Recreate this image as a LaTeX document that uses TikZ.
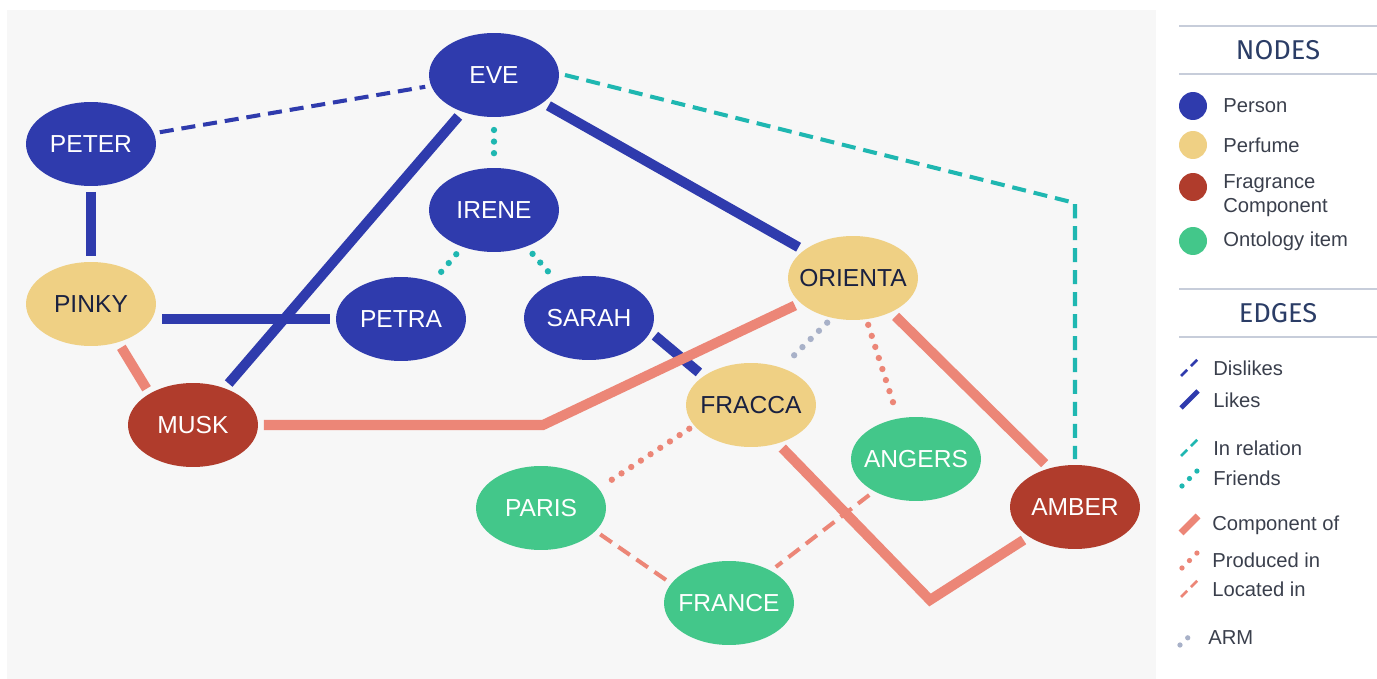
\documentclass[tikz,border=0pt]{standalone}
\usepackage{fontspec}
\setmainfont{Liberation Sans}
\newfontfamily\headfont{Fira Sans}
\usepackage{xcolor}
\usetikzlibrary{shapes.geometric}
\definecolor{personblue}{HTML}{2F3BAD}
\definecolor{perfyellow}{HTML}{EFD084}
\definecolor{compred}{HTML}{B03C2C}
\definecolor{ontogreen}{HTML}{43C78A}
\definecolor{salmon}{HTML}{EC8677}
\definecolor{relteal}{HTML}{1FB7B1}
\definecolor{armgrey}{HTML}{A8B1C8}
\definecolor{panelgrey}{HTML}{F7F7F7}
\definecolor{headnavy}{HTML}{2B3D66}
\definecolor{rulegrey}{HTML}{C7CDDA}
\definecolor{legtext}{HTML}{3A3F4C}
\definecolor{darktext}{HTML}{1A2140}
\pgfdeclarelayer{back}
\pgfdeclarelayer{edge}
\pgfsetlayers{back,edge,main}

\begin{document}
\begin{tikzpicture}[x=0.02cm, y=-0.02cm,
  nd/.style={ellipse, minimum width=2.6cm, minimum height=1.68cm, inner xsep=-10pt,
             inner ysep=0pt, outer sep=3.4pt, font=\fontsize{14}{16}\selectfont},
  person/.style={nd, fill=personblue, text=white},
  perfume/.style={nd, fill=perfyellow, text=darktext},
  comp/.style={nd, fill=compred, text=white},
  onto/.style={nd, fill=ontogreen, text=white},
  likes/.style={personblue, line width=5.7pt},
  dislikes/.style={personblue, line width=2.3pt, dash pattern=on 8pt off 4.5pt},
  inrel/.style={relteal, line width=2.3pt, dash pattern=on 8pt off 4.5pt},
  friends/.style={relteal, line width=3.6pt, line cap=round, dash pattern=on 0pt off 6.6pt},
  compof/.style={salmon, line width=5.7pt},
  prod/.style={salmon, line width=3.6pt, line cap=round, dash pattern=on 0pt off 6.6pt},
  loc/.style={salmon, line width=2.3pt, dash pattern=on 8pt off 4.5pt},
  arm/.style={armgrey, line width=3.6pt, line cap=round, dash pattern=on 0pt off 6.6pt},
  ldot/.style={line width=3pt, dash pattern=on 0pt off 6pt},
  ldash/.style={line width=1.5pt, dash pattern=on 5pt off 3pt},
  leg/.style={anchor=west, inner sep=0pt, align=left, text=legtext,
              font=\fontsize{11.5}{13.6}\selectfont},
  dot/.style={circle, inner sep=0pt, minimum size=0.56cm},
  head/.style={text=headnavy, font=\headfont\fontsize{15.5}{18}\selectfont},
  rule/.style={rulegrey, line width=1.1pt}]
\useasboundingbox (0,0) rectangle (1377,679);
\begin{pgfonlayer}{back}
\fill[panelgrey] (7,10) rectangle (1156,679);
\end{pgfonlayer}

% people
\node[person] (EVE) at (494,75) {EVE};
\node[person] (PETER) at (91,144) {PETER};
\node[person] (IRENE) at (494,210) {IRENE};
\node[person] (PETRA) at (401,319) {PETRA};
\node[person] (SARAH) at (589,318) {SARAH};
% perfumes
\node[perfume] (PINKY) at (91,304) {PINKY};
\node[perfume] (ORIENTA) at (853,278) {ORIENTA};
\node[perfume] (FRACCA) at (751,405) {FRACCA};
% components
\node[comp] (MUSK) at (193,425) {MUSK};
\node[comp] (AMBER) at (1075,507) {AMBER};
% ontology
\node[onto] (PARIS) at (541,508) {PARIS};
\node[onto] (ANGERS) at (916,459) {ANGERS};
\node[onto] (FRANCE) at (729,603) {FRANCE};

\coordinate (bendrel) at (1075,203);
\coordinate (bendmusk) at (543,425);
\coordinate (bendfracca) at (930,600);

\begin{pgfonlayer}{edge}
\draw[dislikes] (PETER) -- (EVE);
\draw[likes] (PETER) -- (PINKY);
\draw[likes] (PETRA.west) -- (PETRA.west -| PINKY.east);
\draw[likes] (MUSK) -- (EVE);
\draw[likes] (EVE) -- (ORIENTA);
\draw[likes] (SARAH.-15) -- (FRACCA.148);
\draw[inrel] (EVE.east) -- (bendrel) -- (AMBER);
\draw[friends, shorten <=4pt, shorten >=4pt] (EVE) -- (IRENE);
\draw[friends, shorten <=2pt, shorten >=2pt] (IRENE) -- (PETRA);
\draw[friends, shorten <=2pt, shorten >=2pt] (IRENE) -- (SARAH);
\draw[compof] (PINKY.-55) -- (MUSK.142);
\draw[compof] (MUSK.east) -- (bendmusk) -- (ORIENTA);
\draw[compof] (ORIENTA.-42) -- (AMBER.125);
\draw[compof] (FRACCA.-54) -- (bendfracca) -- (AMBER);
\draw[prod] (ORIENTA.-72) -- (ANGERS.113);
\draw[prod] (FRACCA.-159) -- (PARIS.20);
\draw[loc] (PARIS.-24) -- (FRANCE.160);
\draw[loc] (ANGERS) -- (FRANCE);
\draw[arm] (ORIENTA.-120) -- (FRACCA.50);
\end{pgfonlayer}

% legend: nodes
\draw[rule] (1179,26) -- (1377,26);
\node[head] (hnodes) at (1278,50) {NODES};
\draw[rule] (1179,74) -- (1377,74);
\node[dot, fill=personblue] (lperson) at (1193,106) {};
\node[leg] (tperson) at (1223,106) {Person};
\node[dot, fill=perfyellow] (lperfume) at (1193,145) {};
\node[leg] (tperfume) at (1223,145) {Perfume};
\node[dot, fill=compred] (lcomp) at (1193,187) {};
\node[leg] (tcomp) at (1223,196) {Fragrance\\Component};
\node[dot, fill=ontogreen] (lonto) at (1193,241) {};
\node[leg] (tonto) at (1223,241) {Ontology item};

% legend: edges
\draw[rule] (1179,289) -- (1377,289);
\node[head] (hedges) at (1278,313) {EDGES};
\draw[rule] (1179,337) -- (1377,337);
\draw[dislikes, ldash] (1181,376) -- ++(17,-17);
\node[leg] (tdislikes) at (1213,368) {Dislikes};
\draw[likes, line width=2.8pt] (1181,408) -- ++(17,-17);
\node[leg] (tlikes) at (1213,400) {Likes};
\draw[inrel, ldash] (1181,456) -- ++(17,-17);
\node[leg] (tinrel) at (1213,448) {In relation};
\draw[friends, ldot] (1182,486) -- ++(16,-16);
\node[leg] (tfriends) at (1213,478) {Friends};
\draw[compof, line width=4pt] (1181,533) -- ++(17,-17);
\node[leg] (tcompof) at (1212,525) {Component of};
\draw[prod, ldot] (1182,568) -- ++(16,-16);
\node[leg] (tprod) at (1212,560) {Produced in};
\draw[loc, ldash] (1181,597) -- ++(17,-17);
\node[leg] (tloc) at (1212,589) {Located in};
\draw[arm, ldot] (1180,645) -- ++(15,-14);
\node[leg] (tarm) at (1208,638) {ARM};
\end{tikzpicture}
\end{document}
